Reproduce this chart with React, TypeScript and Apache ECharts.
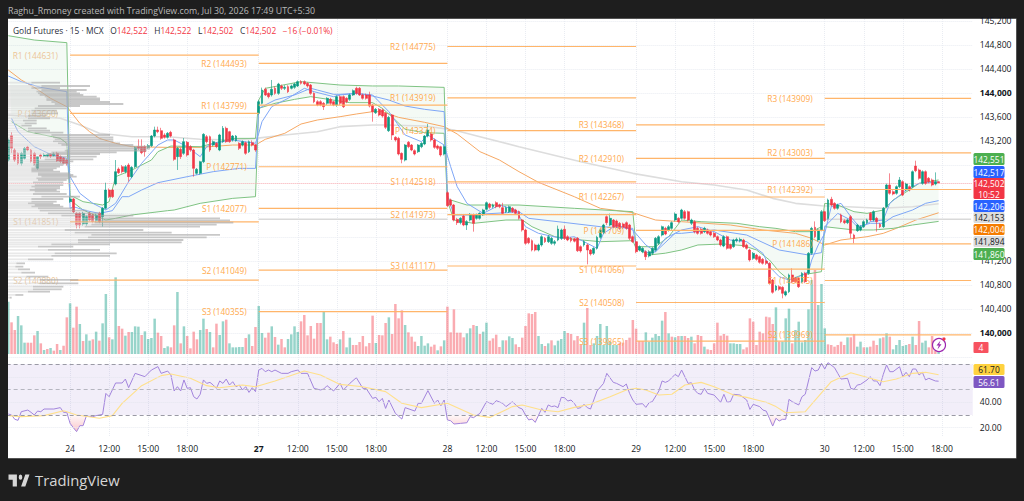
import React, { useEffect, useRef } from "react";
import * as echarts from "echarts";

const FONT = "'Open Sans', 'Noto Sans', sans-serif";
const ORANGE_TEXT = "#ffa94d";

// [open, close, low, high]
const candlesPre = [
  [142883,143217,142860,143240],[143290,143078,143000,143350],[143050,142883,142850,143080],[142994,142828,142800,143010],
  [142828,142994,142790,143020],[142911,143078,142890,143100],[143100,143050,143030,143120],[143050,142860,142840,143065],
  [142994,142828,142800,143020],[142744,142939,142720,142950],[142967,142939,142900,142990],[142950,142967,142930,143000],
  [142950,142975,142930,143000],[142975,142950,142920,142995],[142960,142985,142940,143010],[142994,142870,142850,143020],
  [142939,142860,142830,142960],[142911,142828,142810,142930],[142880,142828,142790,142900],
];
const candles24 = [
  [142189,142233,142170,142270],[142233,142022,142000,142250],[141994,141800,141744,142010],[141994,141800,141744,142010],
  [141816,141994,141790,142020],[141816,141939,141790,141960],[141994,141883,141860,142020],[141967,141856,141830,141990],
  [141872,141967,141850,141990],[141994,141856,141830,142020],[141939,142078,141772,142100],[142078,142383,142060,142505],
  [142383,142272,142250,142410],[142383,142272,142250,142400],[142483,142689,142460,142883],[142733,142672,142650,142760],
  [142772,142689,142660,142800],[142689,142772,142660,142800],[142800,142606,142522,142830],[142606,142761,142580,142780],
  [142772,143089,142750,143110],[143106,143078,143050,143228],[143106,143005,142980,143228],[143106,143022,142940,143130],
  [143094,143122,143070,143150],[143122,143283,143100,143300],[143283,143383,143260,143439],[143383,143355,143330,143439],
  [143372,143244,143220,143420],[143300,143261,143240,143330],[143261,143328,143240,143350],[143344,143283,143260,143370],
  [143217,142894,142870,143240],[142939,143078,142717,143100],[143061,142939,142900,143090],[142994,143189,142970,143250],
  [143178,142967,142940,143200],[143106,143050,143020,143130],[143050,142744,142605,143070],[142661,142728,142640,142750],
  [142661,142855,142640,142870],[142855,143311,142830,143330],[143272,143189,143160,143300],[143272,143050,143020,143290],
  [143133,143189,143110,143210],[143161,143105,143080,143180],[143050,143300,143030,143320],[143189,143411,143170,143450],
  [143411,143189,143170,143440],[143355,143189,143170,143370],[143217,143283,143190,143300],[143205,143283,143190,143300],
  [143161,143078,143050,143180],[143133,143189,143110,143210],[143172,142994,142970,143190],[143022,143189,143000,143210],
  [143172,143133,143110,143210],[143133,143050,143020,143150],
];
const candles27 = [
  [143661,143855,143640,143880],[143828,144050,143810,144090],[144061,143967,143950,144090],[143994,143939,143910,144010],
  [143967,144061,143940,144217],[144078,143994,143970,144110],[143994,144150,143970,144170],[144117,144078,144050,144140],
  [144078,144094,144050,144130],[144106,144022,144000,144130],[144078,144117,144060,144140],[144094,144150,144070,144170],
  [144117,144189,144100,144210],[144189,144161,144140,144215],[144189,144150,144130,144210],[144161,144117,144090,144180],
  [144133,143994,143970,144150],[143994,143855,143830,144010],[143855,143800,143780,143880],[143855,143800,143780,143880],
  [143828,143772,143717,143850],[143828,143911,143800,143930],[143894,143828,143800,143920],[143855,143800,143780,143870],
  [143800,143939,143770,143960],[143939,143828,143800,143960],[143939,143772,143750,143960],[143911,143856,143830,143930],
  [143894,143967,143870,143990],[143967,144039,143950,144060],[144078,143994,143970,144105],[144078,143967,143950,144100],
  [143967,143911,143890,143990],[143967,143911,143890,143990],[143967,143783,143760,144022],[143800,143689,143522,143820],
  [143672,143728,143650,143750],[143728,143633,143610,143750],[143717,143617,143590,143740],[143661,143428,143400,143680],
  [143372,143594,143350,143620],[143633,143300,143217,143650],[143261,143217,143190,143280],[143244,142983,142960,143270],
  [142994,142894,142828,143010],[142883,143133,142860,143150],[143178,143106,143080,143200],[143133,143050,143030,143150],
  [143039,142983,142960,143060],[143022,143133,143000,143150],[143105,143161,143080,143180],[143150,143283,143130,143300],
  [143283,143383,143260,143483],[143317,143217,143190,143340],[143217,143094,143070,143240],[143117,143078,143050,143140],
  [143105,142967,142940,143120],[142983,143105,142960,143130],
];
const candles28 = [
  [142339,142122,142100,142360],[142217,142133,142110,142240],[142133,141883,141860,142150],[141894,141839,141800,141920],
  [141839,141911,141810,141930],[141950,141800,141780,141970],[141800,141855,141717,141880],[141883,141978,141860,142000],
  [141967,141828,141689,141990],[141911,141967,141890,141990],[141911,141994,141890,142010],[141967,142050,141950,142070],
  [142061,142172,142040,142190],[142150,142094,142070,142170],[142105,142133,142080,142155],[142172,142105,142080,142195],
  [142133,142105,142080,142155],[142089,141994,141970,142170],[142022,142089,142000,142110],[142022,142105,142000,142125],
  [142078,142022,142000,142100],[142050,141994,141970,142070],[142022,141911,141890,142040],[141883,141717,141690,141900],
  [141717,141494,141470,141740],[141578,141505,141480,141600],[141539,141383,141360,141560],[141467,141383,141360,141490],
  [141383,141467,141360,141490],[141467,141605,141440,141630],[141578,141522,141500,141600],[141522,141605,141500,141630],
  [141494,141578,141470,141600],[141494,141522,141460,141550],[141550,141733,141530,141790],[141578,141717,141550,141740],
  [141728,141578,141550,141790],[141605,141550,141530,141630],[141578,141539,141510,141600],[141570,141530,141510,141590],
  [141578,141372,141350,141600],[141439,141367,141340,141460],[141467,141522,141440,141545],[141467,141383,141144,141490],
  [141383,141317,141290,141400],[141328,141411,141300,141430],[141411,141594,141390,141620],[141594,141717,141570,141740],
  [141678,141800,141650,141820],[141939,141839,141800,141960],[141800,141911,141780,141990],[141883,141772,141750,141900],
  [141867,141772,141750,141890],[141828,141744,141720,141850],[141817,141761,141740,141840],[141839,141744,141720,141860],
  [141800,141578,141550,141820],[141605,141522,141500,141625],
];
const candles29 = [
  [141522,141355,141330,141540],[141383,141439,141360,141460],[141355,141411,141330,141430],[141355,141272,141216,141380],
  [141283,141355,141260,141380],[141328,141411,141300,141430],[141383,141578,141360,141600],[141494,141605,141470,141630],
  [141633,141772,141610,141790],[141744,141650,141630,141770],[141717,141772,141690,141800],[141744,141839,141720,141860],
  [141883,141983,141860,142010],[141911,141855,141830,141930],[141911,142050,141890,142070],[142022,141911,141890,142050],
  [142022,141883,141860,142040],[141828,141883,141800,141905],[141855,141689,141660,141880],[141744,141661,141640,141770],
  [141728,141661,141640,141750],[141689,141744,141665,141770],[141717,141661,141640,141740],[141689,141633,141610,141710],
  [141661,141605,141585,141680],[141605,141550,141530,141625],[141550,141467,141440,141570],[141450,141605,141430,141630],
  [141605,141411,141390,141625],[141467,141411,141390,141490],[141439,141550,141420,141570],[141539,141561,141510,141590],
  [141539,141561,141510,141590],[141550,141439,141420,141570],[141467,141411,141390,141490],[141383,141217,141190,141405],
  [141244,141328,141220,141350],[141300,141228,141205,141320],[141272,141178,141155,141290],[141228,141161,141140,141250],
  [141200,141161,141135,141225],[141161,140828,140805,141180],[140883,140678,140655,140900],[140717,140783,140695,140805],
  [140772,140728,140705,140795],[140761,140661,140578,140780],[140634,140689,140610,140710],[140689,140967,140665,140990],
  [140967,140856,140830,141078],[140911,140856,140830,140935],[140911,140772,140750,140930],[140856,140994,140830,141015],
  [140994,140856,140830,141020],[140994,141328,140970,141350],[141328,141744,141305,141770],[141761,141605,141580,141860],
  [141550,141717,141525,141740],[141717,142022,141695,142050],
];
const candles30 = [
  [142022,141872,141850,142040],[141911,142217,141890,142240],[142228,142133,142110,142270],[142161,142078,142055,142180],
  [142078,142133,142055,142155],[141967,141855,141830,141990],[141872,141839,141815,141895],[141839,141883,141815,141905],
  [141939,141661,141578,141965],[141633,141578,141494,141655],[141706,141800,141685,141820],[141717,141772,141695,141795],
  [141772,141855,141750,141880],[141839,141883,141815,141905],[141994,141883,141860,142015],[141883,142022,141860,142045],
  [141911,141855,141689,141935],[141811,141772,141750,141835],[141772,142078,141750,142100],[142105,142467,142085,142490],
  [142467,142328,142305,142661],[142355,142317,142295,142378],[142328,142439,142305,142460],[142439,142550,142415,142600],
  [142522,142300,142280,142545],[142383,142483,142360,142505],[142439,142383,142360,142460],[142439,142689,142415,142710],
  [142783,142705,142680,142872],[142717,142578,142555,142740],[142494,142689,142470,142710],[142689,142494,142470,142710],
  [142578,142522,142495,142600],[142550,142467,142445,142575],[142483,142522,142460,142677],[142522,142502,142502,142522],
];

// Negative = sell-side (red) bar; magnitude = bar volume.
const volumesPre = [157,-95,-72,114,86,34,-34,-34,-56,69,-32,12,-15,18,-10,-30,12,-25,-110];
const volumes24 = [152,-79,-142,90,-39,59,40,-44,67,-40,92,180,-50,44,230,-84,-76,55,-66,66,83,82,-57,68,45,48,106,-64,-54,18,23,-20,-86,186,-32,83,-54,-17,-67,-44,72,106,-75,66,-20,-91,57,98,-103,32,20,20,21,21,-48,59,-24,-81];
const volumes27 = [144,63,-49,-64,83,-51,28,-45,-20,45,59,83,66,-98,-117,-56,-84,-46,-93,-93,127,44,-52,-35,-30,44,-69,20,49,-27,-27,-36,-54,-23,-33,-115,33,-57,-56,-93,110,-60,-150,-107,-131,87,-65,-52,-37,24,54,25,32,-22,-28,11,-23,41];
const volumes28 = [-142,-65,-134,-64,-64,-50,62,77,-87,84,-60,67,94,-40,-47,-58,-21,41,-41,53,48,-29,-21,-49,-84,-122,-120,-126,54,30,-24,32,-41,26,40,45,69,-63,-60,-41,-54,-27,94,-138,-27,32,54,90,27,84,37,27,27,-34,-34,-42,-49,-102];
const volumes29 = [-76,-39,-39,65,37,49,60,54,100,-126,62,-52,50,-54,54,-54,-48,52,-32,-57,-54,22,-14,-12,-32,-94,-55,-60,-55,32,32,30,30,-14,-20,-107,-97,-27,-67,-62,-112,-110,-90,140,-37,37,107,136,-32,72,97,35,42,134,222,-252,147,210];
const volumes30 = [77,-29,-27,-22,-27,-37,-27,50,-50,-60,22,37,-20,20,-22,-40,-27,47,-50,62,-52,14,27,42,24,27,-30,52,-27,-99,34,40,-20,-54,-10,7];

// [bar index, value]
const rsiPoints = [
  [0,30.8],[1,30],[2,26.6],[3,25.8],[4,32.6],[6,33.9],[7,32.1],[8,30],[9,33.1],[10,32.6],[11,34.7],[14,34.7],[16,35.8],[17,32.1],[18,32.1],[19,23.4],[20,20],[21,16.9],[22,21.6],[23,21.6],[24,29.2],[26,28.7],[27,29.5],[29,30.5],[30,47],[31,44.4],[33,55.2],[35,55.2],[36,58.3],[37,51.5],[39,62.8],[42,60.2],[44,65.4],[46,68.1],[47,62.8],[49,64.6],[50,61.5],[51,48.9],[52,52.3],[53,48.9],[54,57.6],[55,51],[56,51.5],[57,44.4],[58,42.6],[59,46.3],[60,57.6],[61,54.9],[62,55.7],[63,53.6],[64,51],[65,56.8],[66,54.9],[67,58.3],[68,53.6],[69,56.2],[70,52.3],[71,53.6],[72,49.7],[73,52.3],[74,47.8],[75,51.5],[76,48.4],[77,65.4],[78,66.7],[79,64.1],[80,65.4],[81,64.1],[82,65.4],[84,62.8],[86,62.8],[87,64.1],[89,65.4],[90,62.8],[92,62.8],[94,51],[96,49.7],[97,50.5],[98,53.1],[100,48.9],[102,54.9],[103,49.7],[105,54.9],[107,59.4],[109,51],[110,51],[112,43.1],[113,43.9],[114,40.5],[115,43.1],[116,35.2],[117,41.8],[119,31.3],[121,26.8],[122,35.8],[125,33.1],[126,39.2],[127,39.2],[129,49.2],[131,39.2],[132,41.8],[133,37.3],[134,41.8],[135,26.1],[136,25.5],[137,22.9],[139,23.4],[141,23.9],[142,28.7],[143,27.9],[145,31.3],[147,40.5],[149,38.4],[150,41.3],[152,39.2],[153,36.6],[155,40.5],
  [156,37.9],[157,35.8],[158,34.7],[159,30],[160,26.1],[161,26.8],[162,24.2],[164,35.2],[165,32.1],[166,37.9],[167,36.6],[168,37.1],[169,35.8],[170,43.9],[171,43.6],[172,41],[173,41.8],[174,39.2],[175,35.2],[176,35.8],[177,38.4],[178,35.8],[179,34.7],[181,48.9],[183,54.9],[184,62.8],[186,55.7],[187,54.9],[189,52.3],[190,54.4],[191,47],[192,41.8],[193,38.4],[195,38.9],[196,36],[197,39.7],[198,40.5],[200,48.9],[201,56.8],[202,55.7],[203,56.8],[205,62],[206,60.2],[207,65.4],[209,54.9],[210,55.4],[211,49.7],[212,47],[213,46.3],[214,51],[215,47],[217,45.7],[219,40],[220,46.3],[221,40],[222,40.5],[223,46.3],[225,45.7],[227,41.8],[228,34.4],[229,38.4],[231,36.6],[232,33.9],[233,33.1],[234,27.4],[235,21.3],[236,27.4],[237,25.3],[238,26.6],[239,26.6],[240,42.3],[241,40.5],[243,37.9],[244,44.4],[245,46.3],[247,67.3],[248,64.6],[249,65.4],[250,70.7],[251,66.2],[252,71.2],[254,67.3],[255,62.8],[256,58.3],[258,58.9],[259,51],[260,50.2],[261,53.6],[262,54.1],[264,57.6],[265,60.2],[266,56.8],[267,56.8],[268,53.1],[269,62],[270,69.4],[271,64.1],[272,64.1],[274,68],[275,60.2],[276,63.6],[277,60.2],[278,66.2],[279,66.2],[280,61.5],[281,63.6],[282,57.6],[283,58.9],[285,56.8],[286,56.61],
];
const rsiMaPoints = [
  [0,29.5],[4,28.7],[11,29.5],[17,33.4],[21,30],[28,27.4],[32,29.5],[35,39.2],[41,53.1],[47,61],[50,62.3],[56,58.9],[61,53.1],[65,51.5],[72,53.6],[76,52.3],[82,56.8],[91,64.6],[96,61.5],[102,54.1],[109,52.3],[116,48.4],[121,39.2],[127,35.8],[135,39.2],[143,30],[148,28.1],[155,36.6],
  [158,37.9],[164,33.9],[169,32.6],[174,36],[179,38.4],[185,44.4],[190,49.7],[193,51],[196,49.7],[200,45.7],[204,46.3],[208,53.6],[213,55.7],[217,52.3],[223,45.7],[227,43.9],[233,40],[236,36.6],[239,31.8],[245,32.6],[249,44.4],[253,56.2],[259,63.3],[265,58.9],[269,56.2],[273,58.3],[278,62.8],[282,63.6],[286,61.7],
];
const rsiDipRanges = [[19,24],[135,144],[160,163],[234,239]];

const emaGray = [[0,143633],[8,143605],[16,143578],[22,143467],[28,143328],[38,143272],[49,143272],[59,143228],[69,143217],[76,143244],[85,143300],[95,143355],[102,143439],[112,143467],[116,143467],[128,143450],[137,143383],[145,143272],[157,143105],[176,142855],[192,142661],[207,142522],[217,142466],[227,142383],[235,142244],[242,142161],[250,142122],[258,142105],[268,142078],[278,142105],[286,142153]];
const emaOrange = [[0,144383],[4,144217],[8,144094],[13,143911],[18,143772],[22,143494],[25,143355],[28,143244],[33,143161],[38,143105],[49,143094],[59,143094],[69,143133],[76,143133],[79,143228],[85,143328],[90,143483],[95,143550],[102,143605],[107,143650],[112,143689],[115,143689],[120,143594],[128,143511],[134,143439],[138,143317],[145,143022],[151,142883],[157,142689],[163,142511],[174,142272],[182,142078],[192,142005],[199,141883],[207,141855],[222,141800],[232,141717],[242,141661],[247,141578],[251,141467],[256,141550],[264,141605],[269,141661],[273,141744],[279,141883],[286,142004]];
const emaBlue = [[1,143578],[3,143356],[8,143105],[13,142978],[18,142911],[19,142605],[22,142328],[26,142161],[30,142050],[33,142161],[37,142522],[41,142828],[46,143133],[49,143217],[51,143217],[55,143105],[59,142939],[61,143105],[63,143161],[69,143217],[76,143161],[77,143328],[78,143522],[81,143772],[86,143911],[91,144078],[94,144022],[100,143939],[102,143967],[107,143994],[112,143967],[117,143689],[122,143300],[127,143189],[129,143300],[134,143133],[136,142772],[138,142439],[141,142161],[146,141994],[151,142133],[156,142050],[159,141772],[163,141661],[170,141578],[174,141605],[178,141494],[181,141411],[183,141661],[187,141800],[192,141717],[196,141467],[199,141355],[202,141578],[207,141717],[212,141772],[217,141689],[222,141550],[227,141522],[232,141328],[234,141106],[237,140939],[240,140883],[243,140939],[246,141022],[247,141217],[249,141467],[251,141661],[253,142105],[256,142161],[259,141939],[262,141744],[265,141855],[269,141883],[271,142161],[276,142383],[280,142494],[286,142517]];
const vwapBlue = [[0,144283],[4,144189],[10,144094],[18,144022],[19,142078],[20,142105],[24,142039],[28,141994],[32,142039],[35,142272],[37,142272],[41,142383],[46,142505],[55,142605],[63,142689],[71,142744],[76,142744],[77,143744],[82,143883],[88,143967],[93,144078],[95,144050],[100,143978],[102,143978],[107,143994],[112,143950],[117,143883],[122,143783],[128,143728],[134,143689],[135,142300],[137,141966],[143,141966],[146,141983],[153,142005],[157,142022],[160,141911],[169,141855],[182,141772],[192,141744],[193,141439],[197,141328],[199,141355],[205,141661],[207,141661],[217,141717],[227,141633],[237,141383],[246,141300],[250,141340],[251,141772],[255,141994],[259,141883],[261,141772],[265,141828],[269,141828],[272,141939],[278,142050],[282,142161],[286,142206]];

const bandUpperSessions = [
  [[0,144955],[8,144883],[18,144839]],
  [[19,142272],[20,142272],[23,142189],[29,142133],[31,142189],[33,142605],[38,142716],[44,142883],[46,143022],[50,143116],[59,143105],[69,143244],[76,143244]],
  [[77,143883],[79,144078],[90,144189],[102,144133],[112,144117],[120,144117],[134,144094]],
  [[135,142250],[136,142217],[141,142133],[146,142133],[157,142133],[174,142078],[192,142022]],
  [[193,141439],[199,141439],[203,141605],[207,141883],[213,141855],[224,141828],[231,141772],[236,141744],[242,141689],[247,141689],[250,141772]],
  [[251,142161],[255,142133],[260,142022],[264,141994],[269,142050],[272,142217],[277,142383],[280,142494],[286,142551]],
];
const bandLowerSessions = [
  [[1,143522],[6,143355],[11,143300],[16,143244],[18,143161]],
  [[19,142217],[23,142050],[30,141883],[33,141911],[38,141967],[49,142039],[51,142050],[59,142161],[69,142244],[76,142272]],
  [[77,143744],[82,143828],[88,143894],[93,143939],[105,143839],[112,143839],[115,143744],[119,143550],[122,143394],[128,143339],[134,143328]],
  [[135,142200],[137,141883],[143,141828],[153,141883],[158,141883],[161,141772],[168,141605],[174,141561],[182,141522],[192,141539]],
  [[193,141411],[197,141300],[202,141330],[207,141384],[212,141467],[220,141484],[226,141456],[230,141384],[234,141217],[237,141022],[240,140884],[244,140967],[250,141022]],
  [[251,141772],[260,141717],[266,141717],[272,141744],[278,141800],[286,141860]],
];

// session [first bar, last bar]
const pivotSessions = [[19,77],[77,135],[135,193],[193,251],[251,296]];
const pivots24 = [["R1",144631],["P",143660],["S1",141851],["S2",140880]];
const pivots27 = [["R2",144493],["R1",143799],["P",142771],["S1",142077],["S2",141049],["S3",140355]];
const pivots28 = [["R2",144775],["R1",143919],["P",143374],["S1",142518],["S2",141973],["S3",141117]];
const pivots29 = [["R3",143468],["R2",142910],["R1",142267],["P",141709],["S1",141066],["S2",140508],["S3",139865]];
const pivots30 = [["R3",143909],["R2",143003],["R1",142392],["P",141486],["S1",140875],["S2",139969]];
const grayLevelSegments = [[77,135,141894],[251,296,141894]];

// [price, lighter part, total length]
const volumeProfile = [
  [144172,70,156],[144117,100,246],[144083,70,156],[144050,100,236],[144022,85,206],[143994,90,216],[143967,95,226],[143939,110,266],[143911,115,276],[143883,115,276],[143850,130,306],[143817,140,346],[143783,90,216],[143744,80,176],[143706,70,146],[143661,70,150],[143622,60,116],[143578,60,126],[143539,45,86],[143494,50,86],[143456,40,71],[143411,60,116],[143372,60,126],[143339,80,166],[143300,130,306],[143261,135,316],[143228,140,316],[143194,135,316],[143161,150,336],[143133,160,376],[143106,180,426],[143072,180,426],[143039,170,416],[143011,130,326],[142983,120,276],[142939,110,266],[142894,110,256],[142861,90,196],[142828,90,186],[142800,75,166],[142772,80,156],[142744,70,146],[142717,70,136],[142689,70,156],[142661,90,186],[142633,90,196],[142606,100,206],[142578,85,186],[142550,90,176],[142511,75,166],[142466,80,166],[142439,70,156],[142411,80,156],[142383,65,146],[142355,80,156],[142317,75,176],[142272,100,216],[142233,70,166],[142189,70,146],[142161,60,136],[142133,80,156],[142105,70,166],[142078,90,196],[142039,95,236],[141994,120,276],[141956,160,376],[141911,250,636],[141878,270,666],[141839,260,676],[141806,250,626],[141772,230,576],[141717,170,406],[141672,200,491],[141634,250,636],[141595,240,596],[141550,210,526],[141511,210,521],[141478,130,306],[141439,90,196],[141384,120,276],[141328,140,326],[141284,130,306],[141228,60,136],[141161,25,51],[141106,22,46],[141061,30,66],[141006,40,81],[140939,55,121],[140884,95,211],[140828,95,211],[140772,75,166],[140728,75,161],[140689,60,126],[140634,22,46],[140589,5,11],
];

const tickIndexes = [19,31,43,55,77,89,101,113,135,147,159,171,193,205,217,229,251,263,275,287];
const tickTexts = ["24","12:00","15:00","18:00","27","12:00","15:00","18:00","28","12:00","15:00","18:00","29","12:00","15:00","18:00","30","12:00","15:00","18:00"];
const hiddenPriceTicks = [139600,141600,142000,142400,142800];
const boldPriceTicks = [140000,144000];
const priceBadges = [
  { text: "142,551", fill: "#4caf50", color: "#fff", y: 153, h: 12 },
  { text: "142,517", fill: "#2962ff", color: "#fff", y: 166, h: 12 },
  { text: "142,502", fill: "#f23645", color: "#fff", y: 178, h: 21, sub: "10:52" },
  { text: "142,206", fill: "#2962ff", color: "#fff", y: 200, h: 12 },
  { text: "142,153", fill: "#dcdcdc", color: "#131722", y: 212, h: 11 },
  { text: "142,004", fill: "#f57c00", color: "#fff", y: 224, h: 11 },
  { text: "141,894", fill: "#dcdcdc", color: "#131722", y: 236, h: 11 },
  { text: "141,860", fill: "#4caf50", color: "#fff", y: 248, h: 12 },
  { text: "61.70", fill: "#ffd23f", color: "#131722", y: 364, h: 11 },
  { text: "56.61", fill: "#7e57c2", color: "#fff", y: 376, h: 12 },
];

const LOGO_D = "M14 6H0v6h7v8h7V6Zm14 14h-7l7-14h7l-7 14Zm-8-8a3 3 0 1 0 0-6 3 3 0 0 0 0 6Z";

export default function App() {
  const ref = useRef<HTMLDivElement>(null);
  useEffect(() => {
    document.body.style.margin = "0";
    echarts.graphic.registerShape("tvlogo", echarts.graphic.extendPath(LOGO_D, {}));

    const chart = echarts.init(ref.current!, undefined, { renderer: "svg" });
    const candles = [...candlesPre, ...candles24, ...candles27, ...candles28, ...candles29, ...candles30];
    const volumes = [...volumesPre, ...volumes24, ...volumes27, ...volumes28, ...volumes29, ...volumes30];
    const CAT = 297;
    const categories = Array.from({ length: CAT }, (_, i) => {
      const k = tickIndexes.indexOf(i);
      return k >= 0 ? tickTexts[k] : "";
    });
    const isTick = (i: number) => tickIndexes.includes(i);

    const pivotRows: any[] = [];
    [pivots24, pivots27, pivots28, pivots29, pivots30].forEach((list, d) => {
      list.forEach(([name, v]) => {
        pivotRows.push({ start: pivotSessions[d][0], end: pivotSessions[d][1], value: v as number, text: `${name} (${v})`, faded: d === 0 });
      });
    });

    const left = 6.65;
    const width = 966.1;
    const xBase = { type: "category", data: categories, boundaryGap: true, axisLine: { show: false }, axisTick: { show: false }, axisLabel: { show: false }, splitLine: { show: false } };
    const yBase = { type: "value", show: false, splitLine: { show: false }, axisLine: { show: false } };

    const bandLine = (name: string, sessions: number[][][]) => ({
      name, type: "line", xAxisIndex: 1, yAxisIndex: 1, data: sessions.flat(), symbol: "none", z: 3, lineStyle: { color: "#7fc383", width: 1 }, silent: true,
    });
    const plainLine = (name: string, data: number[][], color: string, w: number, z: number) => ({
      name, type: "line", xAxisIndex: 1, yAxisIndex: 1, data, symbol: "none", z, lineStyle: { color, width: w }, silent: true,
    });

    const sessions = bandUpperSessions.map((u, i) => [...u, ...[...bandLowerSessions[i]].reverse()]);

    const badgeEls: any[] = [];
    priceBadges.forEach((b) => {
      badgeEls.push({ type: "rect", z: 120, shape: { x: 973.5, y: b.y, width: 31, height: b.h, r: 1.5 }, style: { fill: b.fill } });
      badgeEls.push({ type: "text", z: 121, style: { text: b.text, x: 989, y: b.y + (b.sub ? 5 : b.h / 2), align: "center", verticalAlign: "middle", fill: b.color, font: `8.4px ${FONT}` } });
      if (b.sub) badgeEls.push({ type: "text", z: 121, style: { text: b.sub, x: 989, y: b.y + 16, align: "center", verticalAlign: "middle", fill: b.color, font: `8.4px ${FONT}` } });
    });

    chart.setOption({
      animation: false,
      backgroundColor: "transparent",
      textStyle: { fontFamily: FONT },
      grid: [
        { left, width, top: 19, height: 418 },
        { left, width, top: 21, height: 336 },
        { left, width, top: 254, height: 100 },
        { left, width, top: 351.5, height: 101.6 },
        { left: 8, width: 965, top: 21, height: 336 },
      ],
      xAxis: [
        {
          ...xBase, gridIndex: 0,
          axisLabel: {
            show: true, interval: (i: number) => isTick(i), color: "#131722", fontSize: 8.6, fontFamily: FONT, margin: 7,
            formatter: (v: string) => (v === "27" ? `{b|${v}}` : v), rich: { b: { fontWeight: "bold", fontSize: 8.6, color: "#131722", fontFamily: FONT } },
          },
          splitLine: { show: true, interval: (i: number) => isTick(i), alignWithLabel: true, lineStyle: { color: "#e9ecf2", type: "dotted", width: 1 } },
          axisTick: { show: false, alignWithLabel: true },
        },
        { ...xBase, gridIndex: 1 },
        { ...xBase, gridIndex: 2 },
        { ...xBase, gridIndex: 3 },
        { type: "value", gridIndex: 4, min: 0, max: 2895, show: false, splitLine: { show: false } },
      ],
      yAxis: [
        { ...yBase, gridIndex: 0, min: 0, max: 1 },
        {
          type: "value", gridIndex: 1, position: "right", min: 139600, max: 145200, interval: 400,
          axisLine: { show: false }, axisTick: { show: false },
          splitLine: { show: true, lineStyle: { color: "#e9ecf2", type: "dotted", width: 1 } },
          axisLabel: {
            color: "#131722", fontSize: 8.6, fontFamily: FONT, margin: 7, align: "left", showMinLabel: true, showMaxLabel: true,
            formatter: (v: number) => {
              if (hiddenPriceTicks.includes(v)) return "";
              const s = v.toLocaleString("en-US");
              return boldPriceTicks.includes(v) ? `{b|${s}}` : s;
            },
            rich: { b: { fontWeight: "bold", fontSize: 8.6, color: "#131722", fontFamily: FONT } },
          },
        },
        { ...yBase, gridIndex: 2, min: 0, max: 300 },
        {
          type: "value", gridIndex: 3, position: "right", min: 0, max: 80, interval: 20,
          axisLine: { show: false }, axisTick: { show: false }, splitLine: { show: false },
          axisLabel: {
            color: "#131722", fontSize: 8.6, fontFamily: FONT, margin: 7, align: "left", showMinLabel: true, showMaxLabel: true,
            formatter: (v: number) => (v === 20 || v === 40 ? v.toFixed(2) : ""),
          },
        },
        { ...yBase, gridIndex: 4, min: 139600, max: 145200 },
      ],
      series: [
        { name: "guides", type: "line", xAxisIndex: 0, yAxisIndex: 0, data: [], symbol: "none", silent: true },
        {
          name: "Band fill", type: "custom", xAxisIndex: 1, yAxisIndex: 1, z: 1, silent: true, clip: false,
          data: sessions.map((s, i) => [s[0][0], s[0][1], i]),
          renderItem: (params: any, api: any) => ({
            type: "polygon",
            shape: { points: sessions[params.dataIndex].map((p) => api.coord(p)) },
            style: { fill: "rgba(76,175,80,0.06)" },
          }),
        },
        {
          name: "Volume", type: "bar", xAxisIndex: 2, yAxisIndex: 2, z: 2, barWidth: 2.5, silent: true,
          data: volumes.map((v) => ({ value: Math.abs(v), itemStyle: { color: v >= 0 ? "rgba(8,153,129,0.42)" : "rgba(242,54,69,0.42)" } })),
        },
        plainLine("EMA 200", emaGray, "#dddddd", 1.6, 3),
        plainLine("EMA 50", emaOrange, "#f6a864", 1, 3),
        bandLine("Upper band", bandUpperSessions),
        bandLine("Lower band", bandLowerSessions),
        plainLine("VWAP", vwapBlue, "#7ea6f6", 1, 4),
        plainLine("EMA 20", emaBlue, "#7ea6f6", 1, 4),
        {
          name: "Gold Futures", type: "candlestick", xAxisIndex: 1, yAxisIndex: 1, z: 5, barWidth: 2.4, silent: true,
          data: candles,
          itemStyle: { color: "#089981", color0: "#f23645", borderColor: "#089981", borderColor0: "#f23645", borderWidth: 0.6 },
          markLine: {
            silent: true, symbol: "none", label: { show: false }, animation: false,
            lineStyle: { color: "#f7a9b0", type: "dotted", width: 1 },
            data: [{ yAxis: 142502 }],
          },
        },
        {
          name: "Previous level", type: "custom", xAxisIndex: 1, yAxisIndex: 1, z: 4, silent: true, clip: false,
          data: grayLevelSegments.map((s) => [s[0], s[2]]),
          renderItem: (params: any, api: any) => {
            const s = grayLevelSegments[params.dataIndex];
            const a = api.coord([s[0], s[2]]);
            const b = api.coord([s[1], s[2]]);
            return { type: "line", shape: { x1: a[0], y1: a[1], x2: b[0], y2: b[1] }, style: { stroke: "#d9d9d9", lineWidth: 1.5 } };
          },
        },
        {
          name: "Pivots", type: "custom", xAxisIndex: 1, yAxisIndex: 1, z: 6, silent: true, clip: false,
          data: pivotRows.map((r) => [r.start, r.value]),
          renderItem: (params: any, api: any) => {
            const r = pivotRows[params.dataIndex];
            const a = api.coord([r.start, r.value]);
            const b = api.coord([r.end, r.value]);
            return {
              type: "group",
              children: [
                { type: "line", shape: { x1: a[0], y1: a[1], x2: b[0], y2: b[1] }, style: { stroke: "#ffb56a", lineWidth: 1.2 } },
                { type: "text", style: { text: r.text, x: a[0] - 12, y: a[1], align: "right", verticalAlign: "middle", fill: r.faded ? "#ecc596" : ORANGE_TEXT, font: `8.3px ${FONT}` } },
              ],
            };
          },
        },
        {
          name: "Volume profile", type: "custom", xAxisIndex: 4, yAxisIndex: 4, z: 7, silent: true, clip: false,
          data: volumeProfile.map((r) => [r[2], r[0], r[1]]),
          renderItem: (params: any, api: any) => {
            const [price, light, total] = volumeProfile[params.dataIndex];
            const o = api.coord([0, price]);
            const m = api.coord([light, price]);
            const e = api.coord([total, price]);
            return {
              type: "group",
              children: [
                { type: "rect", shape: { x: o[0], y: o[1] - 0.9, width: m[0] - o[0], height: 1.8 }, style: { fill: "rgba(215,215,215,0.55)" } },
                { type: "rect", shape: { x: m[0], y: m[1] - 0.9, width: e[0] - m[0], height: 1.8 }, style: { fill: "rgba(170,170,170,0.65)" } },
              ],
            };
          },
        },
        {
          name: "RSI dips", type: "line", xAxisIndex: 3, yAxisIndex: 3, z: 2, symbol: "none", silent: true, connectNulls: false, lineStyle: { width: 0 },
          data: rsiDipRanges.flatMap((r) => [
            [r[0], 30],
            ...rsiPoints.filter((p) => p[0] >= r[0] && p[0] <= r[1]).map((p) => [p[0], Math.min(p[1], 30)]),
            [r[1], 30],
          ]),
          areaStyle: {
            origin: 30,
            color: new echarts.graphic.LinearGradient(0, 0, 0, 1, [
              { offset: 0, color: "rgba(242,54,69,0.05)" },
              { offset: 1, color: "rgba(242,54,69,0.4)" },
            ]),
          },
        },
        {
          name: "RSI", type: "line", xAxisIndex: 3, yAxisIndex: 3, z: 4, data: rsiPoints, symbol: "none", silent: true,
          lineStyle: { color: "#a284dc", width: 1 },
          markArea: { silent: true, itemStyle: { color: "rgba(126,87,194,0.1)" }, data: [[{ yAxis: 70 }, { yAxis: 30 }]] },
          markLine: {
            silent: true, symbol: "none", label: { show: false }, animation: false,
            data: [
              { yAxis: 70, lineStyle: { color: "#9a9aa5", type: [4, 3], width: 1 } },
              { yAxis: 50, lineStyle: { color: "#b6b6c0", type: [4, 3], width: 1 } },
              { yAxis: 30, lineStyle: { color: "#9a9aa5", type: [4, 3], width: 1 } },
              { yAxis: 60, lineStyle: { color: "#e6e6ef", type: "dotted", width: 1 } },
              { yAxis: 40, lineStyle: { color: "#e6e6ef", type: "dotted", width: 1 } },
              { yAxis: 20, lineStyle: { color: "#e9ecf2", type: "dotted", width: 1 } },
            ],
          },
        },
        { name: "RSI MA", type: "line", xAxisIndex: 3, yAxisIndex: 3, z: 4, data: rsiMaPoints, symbol: "none", silent: true, lineStyle: { color: "#ffe08a", width: 1.1 } },
      ],
      graphic: [
        { type: "rect", z: 100, shape: { x: 0, y: 0, width: 8, height: 501 }, style: { fill: "#1e1e1e" } },
        { type: "text", z: 110, style: { text: "Raghu_Rmoney created with TradingView.com, Jul 30, 2026 17:49 UTC+5:30", x: 8, y: 11, verticalAlign: "middle", fill: "#b8b8b8", font: `8.8px ${FONT}` } },
        {
          type: "text", z: 110,
          style: {
            x: 13, y: 30, verticalAlign: "middle",
            text: "{d|Gold Futures · 15 · MCX}  {d|O}{v|142,522}  {d|H}{v|142,522}  {d|L}{v|142,502}  {d|C}{v|142,502}  {v|−16 (−0.01%)}",
            rich: {
              d: { fill: "#2a2e39", font: `8.4px ${FONT}` },
              v: { fill: "#f23645", font: `8.4px ${FONT}` },
            },
          },
        },
        ...badgeEls,
        { type: "rect", z: 120, shape: { x: 973.5, y: 342, width: 15, height: 11, r: 1 }, style: { fill: "#f7525f" } },
        { type: "text", z: 121, style: { text: "4", x: 981, y: 347.5, align: "center", verticalAlign: "middle", fill: "#fff", font: `8.6px ${FONT}` } },
        { type: "circle", z: 120, shape: { cx: 939, cy: 345, r: 6.5 }, style: { fill: "#fff", stroke: "#9c27b0", lineWidth: 1.2 } },
        { type: "polygon", z: 121, shape: { points: [[940.5, 340.5], [936.5, 345.5], [938.8, 345.5], [937.5, 349.5], [941.5, 344.3], [939.2, 344.3]] }, style: { fill: "#9c27b0" } },
        { type: "circle", z: 122, shape: { cx: 944, cy: 339, r: 1.6 }, style: { fill: "#f23645" } },
        { type: "tvlogo", z: 110, x: 8.5, y: 469.5, scaleX: 0.6, scaleY: 0.85, style: { fill: "#d6d6d6" } },
        { type: "text", z: 110, style: { text: "TradingView", x: 35, y: 480, verticalAlign: "middle", fill: "#d6d6d6", font: `500 14.8px ${FONT}` } },
      ],
    });
    return () => chart.dispose();
  }, []);

  return (
    <div style={{ position: "absolute", left: 0, top: 0, width: 1024, height: 501, background: "#1e1e1e", overflow: "hidden" }}>
      <div style={{ position: "absolute", left: 8, top: 19, width: 1008, height: 439, background: "#fff", boxShadow: "0 0 0 0.5px #888" }} />
      <div ref={ref} style={{ position: "absolute", left: 0, top: 0, width: 1024, height: 501 }} />
    </div>
  );
}
